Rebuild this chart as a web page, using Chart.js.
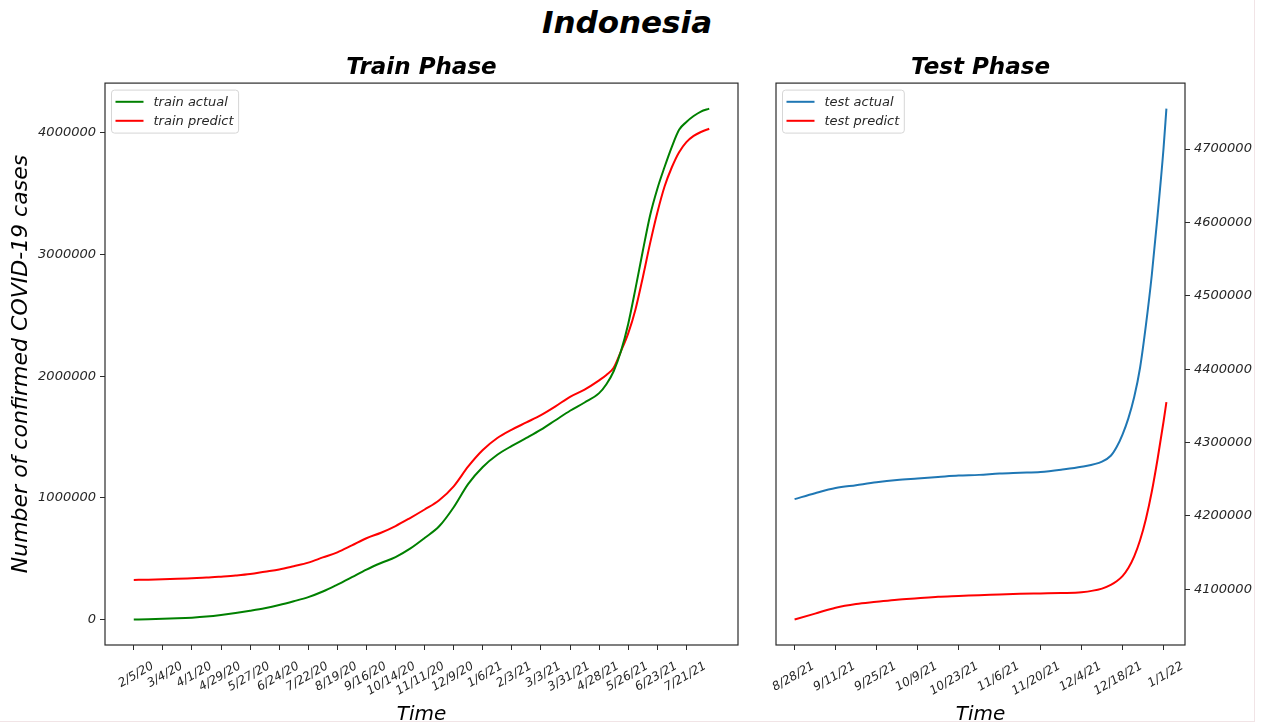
<!DOCTYPE html>
<html>
<head>
<meta charset="utf-8">
<script src="https://cdn.jsdelivr.net/npm/chart.js@4.4.1/dist/chart.umd.min.js"></script>
<style>
  html, body { margin: 0; padding: 0; background: #fff; }
  #page { position: relative; width: 1262px; height: 727px; overflow: hidden; font-family: 'DejaVu Sans', sans-serif; }
  #suptitle { position: absolute; left: 0; width: 1254px; top: 4px; text-align: center; font-weight: bold; font-style: italic; font-size: 31px; color: #000; }
  #edge { position: absolute; left: 0; top: 0; width: 1254px; height: 721px; border-right: 1px solid #f1e4e6; border-bottom: 1px solid #f1e4e6; }
  canvas { position: absolute; top: 40px; }
  #train { left: 0; }
  #test { left: 750px; }
</style>
</head>
<body>
<div id="page">
  <div id="edge"></div>
  <div id="suptitle">Indonesia</div>
  <canvas id="train" width="750" height="687"></canvas>
  <canvas id="test" width="512" height="687"></canvas>
</div>
<script>
// train phase
const trainDates = [
  '2020-02-05', '2020-02-19', '2020-03-04', '2020-03-18', '2020-04-01', '2020-04-15', '2020-04-29', '2020-05-13',
  '2020-05-27', '2020-06-10', '2020-06-24', '2020-07-08', '2020-07-22', '2020-08-05', '2020-08-19', '2020-09-02',
  '2020-09-16', '2020-09-30', '2020-10-14', '2020-10-28', '2020-11-11', '2020-11-25', '2020-12-09', '2020-12-23',
  '2021-01-06', '2021-01-20', '2021-02-03', '2021-02-17', '2021-03-03', '2021-03-17', '2021-03-31', '2021-04-14',
  '2021-04-28', '2021-05-05', '2021-05-12', '2021-05-19', '2021-05-26', '2021-06-02', '2021-06-09', '2021-06-16',
  '2021-06-23', '2021-06-30', '2021-07-07', '2021-07-14', '2021-07-21', '2021-07-28', '2021-08-04', '2021-08-12'
];
const trainActual = [
  0, 2000, 5000, 9000, 15000, 24000, 37000, 53000,
  72000, 93000, 119000, 150000, 184000, 230000, 287000, 348000,
  410000, 464000, 513000, 582000, 670000, 766000, 923000, 1115000,
  1254000, 1354000, 1427000, 1492000, 1560000, 1638000, 1716000, 1784000,
  1861000, 1934000, 2041000, 2205000, 2430000, 2720000, 3027000, 3320000,
  3540000, 3720000, 3886000, 4026000, 4090000, 4139000, 4176000, 4200000
];
const trainPredict = [
  325000, 327000, 330000, 334000, 339000, 344000, 352000, 361000,
  373000, 392000, 411000, 438000, 467000, 510000, 552000, 609000,
  668000, 713000, 768000, 834000, 904000, 980000, 1095000, 1258000,
  1393000, 1492000, 1561000, 1620000, 1680000, 1752000, 1831000, 1890000,
  1966000, 2010000, 2070000, 2205000, 2352000, 2549000, 2810000, 3090000,
  3344000, 3560000, 3718000, 3842000, 3925000, 3976000, 4008000, 4035000
];
const trainTicks = ['2/5/20', '3/4/20', '4/1/20', '4/29/20', '5/27/20', '6/24/20', '7/22/20', '8/19/20', '9/16/20', '10/14/20',
  '11/11/20', '12/9/20', '1/6/21', '2/3/21', '3/3/21', '3/31/21', '4/28/21', '5/26/21', '6/23/21', '7/21/21'];
const trainYTicks = [0, 1000000, 2000000, 3000000, 4000000];

// test phase
const testDates = [
  '2021-08-28', '2021-09-04', '2021-09-11', '2021-09-18', '2021-09-25', '2021-10-02', '2021-10-09', '2021-10-16',
  '2021-10-23', '2021-10-30', '2021-11-06', '2021-11-13', '2021-11-20', '2021-11-27', '2021-12-04', '2021-12-11',
  '2021-12-14', '2021-12-16', '2021-12-18', '2021-12-20', '2021-12-22', '2021-12-24', '2021-12-26', '2021-12-28',
  '2021-12-30', '2022-01-01', '2022-01-02'
];
const testActual = [
  4223000, 4231000, 4238000, 4242000, 4246000, 4249000, 4251000, 4253000,
  4255000, 4256000, 4258000, 4259000, 4260000, 4263000, 4267000, 4274000,
  4282000, 4294000, 4311000, 4333000, 4362000, 4402000, 4460000, 4528000,
  4610000, 4700000, 4755000
];
const testPredict = [
  4059000, 4067000, 4075000, 4080000, 4083000, 4086000, 4088000, 4090000,
  4091000, 4092000, 4093000, 4094000, 4094500, 4095000, 4096000, 4101000,
  4106000, 4111000, 4118000, 4129000, 4145000, 4167000, 4196000, 4233000,
  4278000, 4328000, 4355000
];
const testTicks = ['8/28/21', '9/11/21', '9/25/21', '10/9/21', '10/23/21', '11/6/21', '11/20/21', '12/4/21', '12/18/21', '1/1/22'];
const testYTicks = [4100000, 4200000, 4300000, 4400000, 4500000, 4600000, 4700000];

const FRAME = '#2b2b2b';
const TEXT = '#262626';
const FONT = 'DejaVu Sans';

Chart.defaults.font.family = FONT;
Chart.defaults.color = TEXT;

function isoDay(s) {
  const p = s.split('-').map(Number);
  return Date.UTC(p[0], p[1] - 1, p[2]) / 864e5;
}

function tickDay(s) {
  const p = s.split('/').map(Number);
  return Date.UTC(2000 + p[2], p[0] - 1, p[1]) / 864e5;
}

// matplotlib style 5% margins
function padRange(values) {
  const lo = Math.min(...values);
  const hi = Math.max(...values);
  const m = (hi - lo) * 0.05;
  return [lo - m, hi + m];
}

function points(dates, values) {
  return dates.map((d, i) => ({ x: isoDay(d), y: values[i] }));
}

const framePlugin = {
  id: 'frame',
  afterDatasetsDraw(chart) {
    const { ctx, chartArea: a } = chart;
    ctx.save();
    ctx.strokeStyle = FRAME;
    ctx.lineWidth = 1.2;
    ctx.strokeRect(a.left, a.top, a.right - a.left, a.bottom - a.top);
    ctx.restore();
  }
};

const legendPlugin = {
  id: 'mplLegend',
  afterDraw(chart) {
    const { ctx, chartArea: a } = chart;
    const items = chart.data.datasets;
    ctx.save();
    ctx.font = `italic 13px "${FONT}"`;
    const textW = Math.max(...items.map(d => ctx.measureText(d.label).width));
    const x = a.left + 6.5;
    const y = a.top + 7;
    const w = 42 + textW + 5;
    const h = 43;
    ctx.beginPath();
    ctx.roundRect(x, y, w, h, 3);
    ctx.fillStyle = 'rgba(255,255,255,0.85)';
    ctx.fill();
    ctx.strokeStyle = '#d6d6d6';
    ctx.lineWidth = 1;
    ctx.stroke();
    items.forEach((d, i) => {
      const cy = y + 11.7 + i * 19;
      ctx.beginPath();
      ctx.moveTo(x + 4, cy);
      ctx.lineTo(x + 32, cy);
      ctx.strokeStyle = d.borderColor;
      ctx.lineWidth = 2;
      ctx.stroke();
      ctx.fillStyle = TEXT;
      ctx.textBaseline = 'middle';
      ctx.fillText(d.label, x + 42, cy + 1);
    });
    ctx.restore();
  }
};

function line(label, data, color) {
  return {
    label,
    data,
    borderColor: color,
    backgroundColor: color,
    borderWidth: 2,
    pointRadius: 0,
    cubicInterpolationMode: 'monotone',
    fill: false
  };
}

function xScale(tickLabels, range) {
  return {
    type: 'linear',
    min: range[0],
    max: range[1],
    afterBuildTicks(s) { s.ticks = tickLabels.map(t => ({ value: tickDay(t) })); },
    afterFit(s) {
      s.height = 82;
      s.paddingLeft = 0;
      s.paddingRight = 0;
    },
    ticks: {
      callback: (v, i) => tickLabels[i],
      autoSkip: false,
      minRotation: 30,
      maxRotation: 30,
      padding: 9,
      labelOffset: 19,
      color: TEXT,
      font: { size: 12, style: 'italic' }
    },
    grid: { drawOnChartArea: false, drawTicks: true, tickLength: 5, color: FRAME, lineWidth: 1 },
    border: { display: false },
    title: { display: true, text: 'Time', color: '#000', padding: 0, font: { size: 20, style: 'italic' } }
  };
}

function yScale(tickValues, range, position, width, title) {
  return {
    type: 'linear',
    position,
    min: range[0],
    max: range[1],
    afterBuildTicks(s) { s.ticks = tickValues.map(v => ({ value: v })); },
    afterFit(s) { s.width = width; },
    ticks: {
      callback: v => String(v),
      padding: 4,
      color: TEXT,
      font: { size: 13, style: 'italic' }
    },
    grid: { drawOnChartArea: false, drawTicks: true, tickLength: 5, color: FRAME, lineWidth: 1 },
    border: { display: false },
    title: title
      ? { display: true, text: title, color: '#000', padding: { top: 8, bottom: 0 }, font: { size: 22, style: 'italic' } }
      : { display: false }
  };
}

function makeChart(id, cfg) {
  return new Chart(document.getElementById(id), {
    type: 'line',
    data: { datasets: cfg.datasets },
    options: {
      responsive: false,
      animation: false,
      devicePixelRatio: 1,
      layout: { padding: cfg.padding },
      plugins: {
        legend: { display: false },
        tooltip: { enabled: false },
        title: {
          display: true,
          text: cfg.title,
          fullSize: false,
          color: '#000',
          padding: { top: 14, bottom: 1.5 },
          font: { size: 23, weight: 'bold', style: 'italic' }
        }
      },
      scales: { x: cfg.x, y: cfg.y }
    },
    plugins: [framePlugin, legendPlugin]
  });
}

const trainX = padRange(trainDates.map(isoDay));
const trainY = padRange(trainActual.concat(trainPredict));
makeChart('train', {
  title: 'Train Phase',
  padding: { left: 0, right: 12, top: 0, bottom: 0 },
  datasets: [
    line('train actual', points(trainDates, trainActual), '#008000'),
    line('train predict', points(trainDates, trainPredict), '#ff0000')
  ],
  x: xScale(trainTicks, trainX),
  y: yScale(trainYTicks, trainY, 'left', 105, 'Number of confirmed COVID-19 cases')
});

const testX = padRange(testDates.map(isoDay));
const testY = padRange(testActual.concat(testPredict));
makeChart('test', {
  title: 'Test Phase',
  padding: { left: 26, right: 0, top: 0, bottom: 0 },
  datasets: [
    line('test actual', points(testDates, testActual), '#1f77b4'),
    line('test predict', points(testDates, testPredict), '#ff0000')
  ],
  x: xScale(testTicks, testX),
  y: yScale(testYTicks, testY, 'right', 77, null)
});
</script>
</body>
</html>
